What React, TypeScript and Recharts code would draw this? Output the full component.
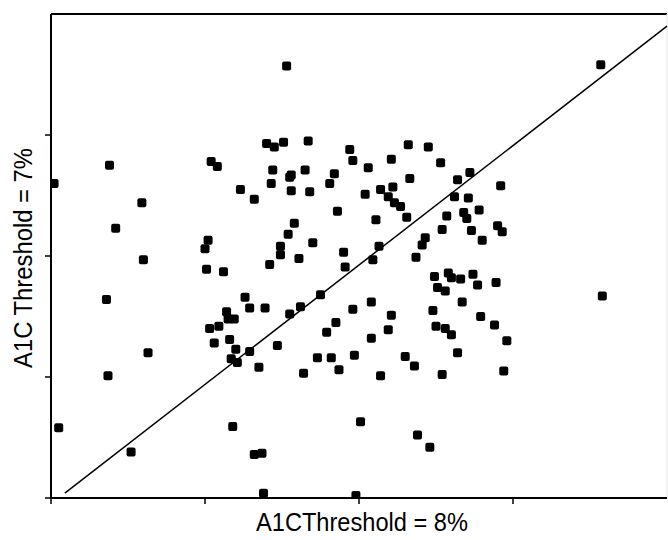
import {
    ScatterChart,
    Scatter,
    XAxis,
    YAxis,
    ReferenceLine,
} from "recharts";

// A1C threshold = 8% (x) vs A1C threshold = 7% (y), arbitrary units
const threshold8 = [
    0.38, 0.02, 0.59, 0.42, 0.60, 0.36, 0.63, 0.37, 0.05, 0.52,
    1.53, 1.40, 1.45, 1.51, 1.67, 1.94, 1.96, 1.04, 1.08, 1.44,
    1.56, 1.55, 1.65, 1.84, 1.43, 1.56, 1.68, 1.81, 1.23, 1.32,
    1.86, 1.58, 1.54, 1.02, 1.00, 1.49, 1.70, 1.90, 1.49, 1.61,
    1.42, 1.01, 1.12, 1.91, 1.26, 1.29, 1.39, 1.75, 1.14, 1.15,
    1.19, 1.03, 1.09, 1.55, 1.62, 1.96, 1.85, 1.79, 1.06, 1.16,
    1.20, 1.29, 1.47, 1.17, 1.21, 1.35, 1.73, 1.82, 1.87, 1.64,
    1.97, 1.18, 1.32, 1.37, 1.38, 1.98,
    2.32, 2.45, 2.21, 2.06, 2.53, 2.33, 2.64, 2.72, 2.92, 2.04,
    2.14, 2.22, 2.19, 2.23, 2.27, 2.62, 2.71, 2.11, 2.31, 2.57,
    2.68, 2.70, 2.78, 2.54, 2.73, 2.90, 2.93, 2.80, 2.43, 2.41,
    2.13, 2.09, 2.37,
    3.57,
    2.49, 2.58, 2.60, 2.66, 2.74, 2.77, 2.89, 2.51, 2.56, 2.08,
    2.67, 2.21, 2.48, 2.79, 2.88, 2.50, 2.56, 2.60, 2.19, 2.08,
    2.96, 2.30, 2.36, 2.64, 2.14, 2.54, 2.94, 2.01, 2.38, 2.46,
    3.58,
];

const threshold7 = [
    2.75, 2.60, 2.44, 2.23, 1.97, 1.64, 1.20, 1.01, 0.58, 0.38,
    3.57, 2.93, 2.90, 2.94, 2.95, 2.88, 2.79, 2.78, 2.74, 2.71,
    2.67, 2.65, 2.71, 2.68, 2.60, 2.54, 2.53, 2.60, 2.55, 2.47,
    2.37, 2.27, 2.18, 2.13, 2.06, 2.08, 2.11, 2.03, 2.01, 1.98,
    1.93, 1.89, 1.87, 1.91, 1.66, 1.57, 1.57, 1.68, 1.54, 1.48,
    1.48, 1.40, 1.42, 1.52, 1.58, 1.56, 1.45, 1.37, 1.28, 1.31,
    1.23, 1.21, 1.26, 1.15, 1.12, 1.08, 1.16, 1.16, 1.06, 1.03,
    1.18, 0.59, 0.36, 0.37, 0.04, 0.02,
    2.92, 2.90, 2.80, 2.73, 2.77, 2.64, 2.63, 2.69, 2.58, 2.51,
    2.55, 2.57, 2.49, 2.44, 2.41, 2.49, 2.48, 2.30, 2.32, 2.33,
    2.36, 2.31, 2.38, 2.22, 2.21, 2.25, 2.20, 2.13, 2.15, 2.09,
    2.08, 1.97, 1.99,
    3.58,
    1.83, 1.86, 1.82, 1.81, 1.85, 1.76, 1.78, 1.74, 1.71, 1.62,
    1.62, 1.51, 1.55, 1.50, 1.43, 1.42, 1.40, 1.35, 1.39, 1.32,
    1.30, 1.17, 1.09, 1.20, 1.01, 1.02, 1.05, 0.63, 0.52, 0.42,
    1.67,
];

const xTicks = [0, 1, 2, 3];
const yTicks = [0, 1, 2, 3];

// line of agreement
const diagonal = [
    {x: 0.09, y: 0.04},
    {x: 4, y: 3.9},
];

const xLabel = "A1CThreshold = 8%";
const yLabel = "A1C Threshold = 7%";

const points = threshold8.map((x, i) => ({x, y: threshold7[i]}));

const font = "'Liberation Sans', Arial, Helvetica, sans-serif";

const SquareDot = (props: any) => {
    const {cx, cy} = props;
    if (cx == null || cy == null) return <g/>;
    return <rect x={cx - 4.5} y={cy - 4.5} width={9} height={9} rx={2} fill="#000"/>;
};

// ticks without labels, only the tick marks
const NoLabel = () => <g/>;

const XTitle = (props: any) => {
    const vb = props.viewBox || {x: 51, y: 498, width: 616, height: 42};
    return (
        <text x={vb.x + vb.width / 2 + 3} y={531} textAnchor="middle"
              fontFamily={font} fontSize={26} fill="#000"
              textLength={212} lengthAdjust="spacingAndGlyphs">
            {xLabel}
        </text>
    );
};

const YTitle = (props: any) => {
    const vb = props.viewBox || {x: 0, y: 14, width: 51, height: 484};
    const cx = 32;
    const cy = vb.y + vb.height / 2 + 2;
    return (
        <text x={cx} y={cy} textAnchor="middle" transform={`rotate(-90, ${cx}, ${cy})`}
              fontFamily={font} fontSize={26} fill="#000"
              textLength={220} lengthAdjust="spacingAndGlyphs">
            {yLabel}
        </text>
    );
};

export default function App() {
    return (
        <div style={{position: "absolute", left: 0, top: 0, background: "#fff"}}>
            <ScatterChart
                width={668}
                height={540}
                margin={{top: 14, right: 1, bottom: 0, left: 0}}
            >
                <XAxis
                    type="number"
                    dataKey="x"
                    domain={[0, 4]}
                    ticks={xTicks}
                    tick={<NoLabel/>}
                    tickLine={{stroke: "#000", strokeWidth: 1.5}}
                    tickSize={6}
                    height={42}
                    stroke="#000"
                    strokeWidth={2}
                    allowDataOverflow
                    label={<XTitle/>}
                />
                <YAxis
                    type="number"
                    dataKey="y"
                    domain={[0, 4]}
                    ticks={yTicks}
                    tick={<NoLabel/>}
                    tickLine={{stroke: "#000", strokeWidth: 1.5}}
                    tickSize={6}
                    width={51}
                    stroke="#000"
                    strokeWidth={2}
                    allowDataOverflow
                    label={<YTitle/>}
                />
                <ReferenceLine y={4} stroke="#000" strokeWidth={2}/>
                <ReferenceLine x={4} stroke="#e4e4e4" strokeWidth={1}/>
                <ReferenceLine segment={diagonal} stroke="#000" strokeWidth={1.5}/>
                <Scatter data={points} shape={<SquareDot/>} isAnimationActive={false}/>
            </ScatterChart>
        </div>
    );
}
